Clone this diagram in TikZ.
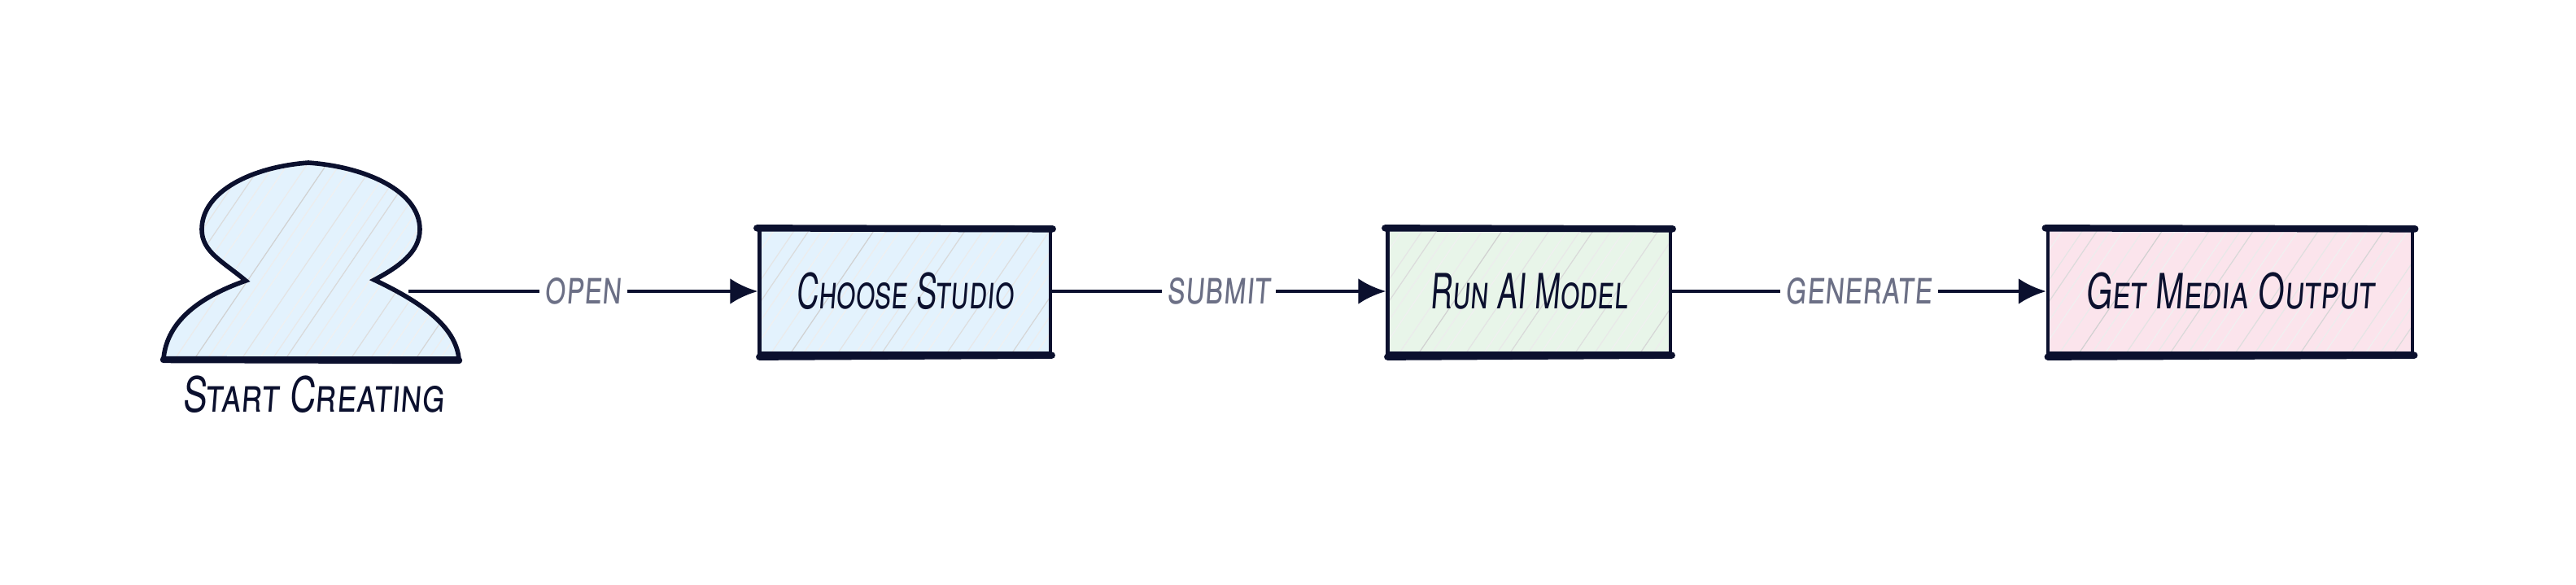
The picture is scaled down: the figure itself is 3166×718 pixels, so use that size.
\documentclass[tikz,border=0pt]{standalone}
\usepackage{fontspec}
\usetikzlibrary{arrows.meta,calc}
\newfontfamily\handfont[Letters=SmallCaps,FakeStretch=0.63,FakeSlant=0.08]{TeX Gyre Heros}
\newfontfamily\mediafont[Letters=SmallCaps,FakeStretch=0.69,FakeSlant=0.08]{TeX Gyre Heros}
\newfontfamily\userfont[Letters=SmallCaps,FakeStretch=0.74,FakeSlant=0.08]{TeX Gyre Heros}
\newfontfamily\flowfont[Letters=SmallCaps,FakeStretch=0.68,FakeSlant=0.08]{TeX Gyre Heros}
\definecolor{inkc}{HTML}{0B102E}
\definecolor{labelc}{HTML}{6C7086}
\definecolor{bluec}{HTML}{E3F2FD}
\definecolor{greenc}{HTML}{E8F5E9}
\definecolor{pinkc}{HTML}{FBE4EC}
\tikzset{
  hatched/.style={path picture={
    \foreach \i/\k in {-300/7,-281/14,-262/6,-247/9,-226/8,-208/12,-190/16,-171/6,-155/10,-140/8,-118/18,-101/7,-85/6,-60/10,-42/14,-26/7,-10/6,14/8,38/18,54/7,70/6,96/11,118/6,134/9,150/15,172/8,188/6,205/6,230/13,254/9,272/6,290/6,310/16,326/7,340/6,372/10,390/6,408/8,425/14,448/8,464/6,480/6,505/15,530/9,548/6,565/7,590/12,605/7,620/6}
      \draw[black!\k,line width=0.35pt] (path picture bounding box.south west) ++(\i,0) -- ++(170,-250);
  }},
  node-box/.style={draw=inkc,line width=1.2pt,rectangle,minimum height=1.53cm,inner sep=0pt,text=inkc,font=\handfont\fontsize{17}{20}\selectfont,hatched},
  node-user/.style={draw=inkc,line width=1.6pt,line join=miter,fill=bluec,hatched},
  user-label/.style={text=inkc,inner sep=0pt,font=\userfont\fontsize{17}{20}\selectfont},
  edge-label/.style={fill=white,text=labelc,inner sep=2pt,font=\flowfont\fontsize{17}{20}\selectfont},
  flow/.style={-{Latex[length=3.4mm,width=3.2mm]},draw=inkc,line width=1.4pt},
  rough/.style={draw=inkc,line width=2.4pt,line cap=round},
}
\begin{document}
\begin{tikzpicture}[x=0.01cm,y=-0.01cm]
  \useasboundingbox (0,0) rectangle (3166,718);

  % USER
  \draw[node-user] (201,441) .. controls (205,395) and (245,365) .. (302,345)
    .. controls (275,322) and (248,310) .. (248,282)
    .. controls (248,235) and (310,205) .. (379,200)
    .. controls (450,205) and (516,235) .. (516,282)
    .. controls (516,310) and (490,328) .. (460,344)
    .. controls (515,370) and (560,400) .. (564,441) -- cycle;
  \draw[rough] (201,442) -- (564,443);
  \coordinate (userport) at (502,358);
  \node[user-label] (user) at (385,485) {Start Creating};

  % STEPS
  \node[node-box,fill=bluec,minimum width=3.57cm]  (studio) at (1112,358) {Choose Studio};
  \node[node-box,fill=greenc,minimum width=3.47cm] (model)  at (1879,358) {Run AI Model};
  \node[node-box,fill=pinkc,minimum width=4.48cm,font=\mediafont\fontsize{17}{20}\selectfont] (media) at (2741,358) {Get Media Output};

  \foreach \b in {studio,model,media} {
    \draw[rough] ($(\b.north west)+(-1,1)$) -- ($(\b.north east)+(1,2)$);
    \draw[rough] ($(\b.south west)+(2,2)$) -- ($(\b.south east)+(0,0)$);
  }

  % FLOW
  \draw[flow] (userport) -- node[edge-label] {open} (studio);
  \draw[flow] (studio) -- node[edge-label] {submit} (model);
  \draw[flow] (model) -- node[edge-label] {generate} (media);

\end{tikzpicture}
\end{document}
